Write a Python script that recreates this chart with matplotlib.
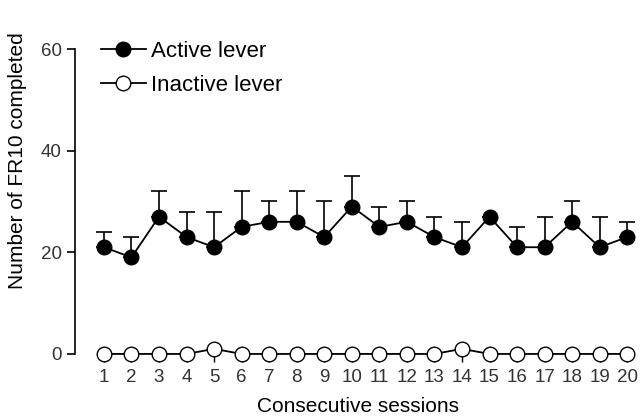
"""Active vs inactive lever presses over consecutive sessions."""
import matplotlib

matplotlib.use("Agg")
import matplotlib.pyplot as plt

plt.rcParams["font.family"] = ["Liberation Sans", "DejaVu Sans"]

sessions = list(range(1, 21))
active = [21, 19, 27, 23, 21, 25, 26, 26, 23, 29, 25, 26, 23, 21, 27, 21, 21, 26, 21, 23]
active_err = [3, 4, 5, 5, 7, 7, 4, 6, 7, 6, 4, 4, 4, 5, 0, 4, 6, 4, 6, 3]
inactive = [0, 0, 0, 0, 1, 0, 0, 0, 0, 0, 0, 0, 0, 1, 0, 0, 0, 0, 0, 0]

fig = plt.figure(figsize=(6.41, 4.19), dpi=100)
ax = fig.add_axes([0.117, 0.131, 0.883, 0.752])

ax.errorbar(sessions, active, yerr=[[0] * len(active_err), active_err],
            fmt="none", ecolor="black", elinewidth=1.2, capsize=6, capthick=1.2, zorder=2)
ax.plot(sessions, active, "-o", color="black", lw=1.3, ms=10.5,
        mfc="black", mec="black", label="Active lever", zorder=3)
ax.plot(sessions, inactive, "-o", color="black", lw=1.3, ms=10.5,
        mfc="white", mec="black", mew=1.0, label="Inactive lever", zorder=4)

ax.set_xlim(-0.05, 20.5)
ax.set_ylim(-2, 60)
ax.set_yticks([0, 20, 40, 60])
ax.set_xticks(sessions)

for s in ("top", "right"):
    ax.spines[s].set_visible(False)
ax.spines["bottom"].set_position(("data", 0))
ax.spines["bottom"].set_visible(False)
ax.spines["left"].set_bounds(0, 60)
ax.spines["left"].set_linewidth(1.2)

ax.tick_params(axis="y", length=6, width=1.2, labelsize=13.5, labelcolor="#333333")
ax.tick_params(axis="x", length=6, width=1.0, labelsize=13.5, labelcolor="#333333", pad=5)

ax.set_ylabel("Number of FR10 completed", fontsize=15)
ax.yaxis.set_label_coords(-0.084, 0.645)
ax.set_xlabel("Consecutive sessions", fontsize=15, labelpad=8)

ax.legend(loc="upper left", bbox_to_anchor=(0.011, 1.09), frameon=False,
          fontsize=16, handlelength=2.0, handletextpad=0.25, labelspacing=0.6)

fig.savefig("out.png", dpi=100)
